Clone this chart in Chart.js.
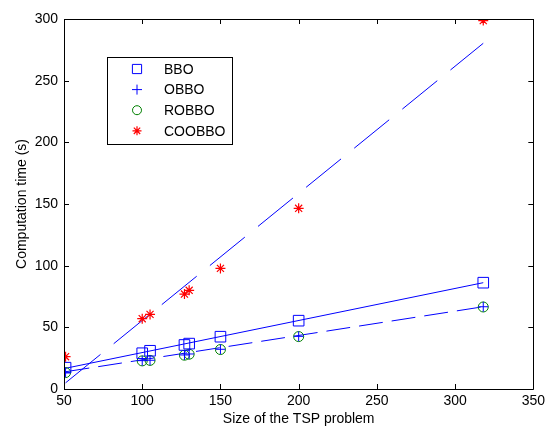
<!DOCTYPE html>
<html>
<head>
<meta charset="utf-8">
<script src="https://cdn.jsdelivr.net/npm/chart.js@4"></script>
<style>
  html, body { margin: 0; padding: 0; background: #fff; }
  #wrap { width: 549px; height: 428px; }
</style>
</head>
<body>
<div id="wrap"><canvas id="chart"></canvas></div>
<script>
// Problem sizes (x)
const sizes = [51, 100, 105, 127, 130, 150, 200, 318];

// Measured computation times (s)
const bboTimes    = [17.3, 29.0, 31.0, 35.7, 36.8, 42.4, 55.4, 86.2];
const obboTimes   = [13.5, 23.0, 23.3, 27.6, 28.4, 32.2, 42.7, 66.7];
const robboTimes  = [13.3, 22.8, 23.2, 27.4, 28.2, 32.0, 42.5, 66.5];
const coobboTimes = [26.2, 57.0, 60.5, 77.0, 80.0, 97.8, 146.5, 298.7];

// Fitted lines (end points)
const fitX       = [51, 318];
const bboFit     = [16.8, 86.2];
const obboFit    = [14.0, 66.7];
const coobboFit  = [5.0, 280.3];

const xTicks = [50, 100, 150, 200, 250, 300, 350];
const yTicks = [0, 50, 100, 150, 200, 250, 300];

const legendNames = ['BBO', 'OBBO', 'ROBBO', 'COOBBO'];

const BLUE = '#0000ff';
const GREEN = '#008000';
const RED = '#ff0000';
const FONT = 'Arial, "Liberation Sans", sans-serif';

function pts(xs, ys) {
    return xs.map((x, i) => ({ x: x, y: ys[i] }));
}

// box around plot area with inward ticks on all sides
const boxPlugin = {
    id: 'boxTicks',
    afterDraw(chart) {
        const ctx = chart.ctx;
        const a = chart.chartArea;
        const xs = chart.scales.x, ys = chart.scales.y;
        ctx.save();
        ctx.strokeStyle = '#000';
        ctx.lineWidth = 1;
        ctx.beginPath();
        ctx.rect(Math.round(a.left) + 0.5, Math.round(a.top) + 0.5,
                 Math.round(a.right - a.left), Math.round(a.bottom - a.top));
        const len = 5;
        xTicks.forEach(v => {
            const px = Math.round(xs.getPixelForValue(v)) + 0.5;
            ctx.moveTo(px, a.bottom); ctx.lineTo(px, a.bottom - len);
            ctx.moveTo(px, a.top); ctx.lineTo(px, a.top + len);
        });
        yTicks.forEach(v => {
            const py = Math.round(ys.getPixelForValue(v)) + 0.5;
            ctx.moveTo(a.left, py); ctx.lineTo(a.left + len, py);
            ctx.moveTo(a.right, py); ctx.lineTo(a.right - len, py);
        });
        ctx.stroke();
        ctx.restore();
    }
};

// MATLAB style legend box inside the axes
const legendPlugin = {
    id: 'boxLegend',
    afterDraw(chart) {
        const ctx = chart.ctx;
        const bx = 107, by = 57, bw = 125, bh = 87;
        ctx.save();
        ctx.fillStyle = '#fff';
        ctx.fillRect(bx, by, bw, bh);
        ctx.strokeStyle = '#000';
        ctx.lineWidth = 1;
        ctx.strokeRect(bx + 0.5, by + 0.5, bw, bh);
        ctx.font = '14px ' + FONT;
        ctx.textBaseline = 'middle';
        legendNames.forEach((name, i) => {
            const ds = chart.data.datasets[i];
            const y = 69 + i * 20.6;
            ctx.fillStyle = 'rgba(0,0,0,0)';
            ctx.strokeStyle = ds.borderColor;
            ctx.lineWidth = ds.borderWidth;
            Chart.helpers.drawPoint(ctx, {
                pointStyle: ds.pointStyle,
                radius: ds.legendRadius,
                borderWidth: ds.borderWidth,
                rotation: 0
            }, 137, y);
            ctx.fillStyle = '#000';
            ctx.fillText(name, 164, y + 1);
        });
        ctx.restore();
    }
};

const ctx = document.getElementById('chart').getContext('2d');
new Chart(ctx, {
    type: 'scatter',
    data: {
        datasets: [
            { label: 'BBO', data: pts(sizes, bboTimes), pointStyle: 'rect', pointRadius: 7.5, legendRadius: 6.5,
              borderColor: BLUE, backgroundColor: 'rgba(0,0,0,0)', borderWidth: 1, showLine: false },
            { label: 'OBBO', data: pts(sizes, obboTimes), pointStyle: 'cross', pointRadius: 5, legendRadius: 5,
              borderColor: BLUE, backgroundColor: 'rgba(0,0,0,0)', borderWidth: 1, showLine: false },
            { label: 'ROBBO', data: pts(sizes, robboTimes), pointStyle: 'circle', pointRadius: 5, legendRadius: 4.5,
              borderColor: GREEN, backgroundColor: 'rgba(0,0,0,0)', borderWidth: 1, showLine: false },
            { label: 'COOBBO', data: pts(sizes, coobboTimes), pointStyle: 'star', pointRadius: 5, legendRadius: 4.5,
              borderColor: RED, backgroundColor: 'rgba(0,0,0,0)', borderWidth: 1.2, showLine: false },
            { label: 'BBO fit', data: pts(fitX, bboFit), showLine: true, pointRadius: 0,
              borderColor: BLUE, borderWidth: 1, fill: false },
            { label: 'OBBO fit', data: pts(fitX, obboFit), showLine: true, pointRadius: 0,
              borderColor: BLUE, borderWidth: 1, borderDash: [24, 9], fill: false },
            { label: 'COOBBO fit', data: pts(fitX, coobboFit), showLine: true, pointRadius: 0,
              borderColor: BLUE, borderWidth: 1, borderDash: [45, 17], fill: false }
        ]
    },
    options: {
        responsive: true,
        maintainAspectRatio: false,
        animation: false,
        layout: { padding: { left: 0, top: 19, right: 11, bottom: 0 } },
        plugins: {
            legend: { display: false },
            tooltip: { enabled: false }
        },
        scales: {
            x: {
                type: 'linear',
                min: 50, max: 350,
                afterBuildTicks(scale) { scale.ticks = xTicks.map(v => ({ value: v })); },
                afterFit(scale) { scale.height = 39; },
                grid: { display: false, drawTicks: false, tickLength: 0 },
                border: { display: false },
                ticks: { color: '#000', font: { family: FONT, size: 14 }, padding: 4, maxRotation: 0 },
                title: { display: true, text: 'Size of the TSP problem', color: '#000',
                         font: { family: FONT, size: 14 }, padding: { top: 0, bottom: 0 } }
            },
            y: {
                type: 'linear',
                min: 0, max: 300,
                afterBuildTicks(scale) { scale.ticks = yTicks.map(v => ({ value: v })); },
                afterFit(scale) { scale.width = 64; },
                grid: { display: false, drawTicks: false, tickLength: 0 },
                border: { display: false },
                ticks: { color: '#000', font: { family: FONT, size: 14 }, padding: 6 },
                title: { display: true, text: 'Computation time (s)', color: '#000',
                         font: { family: FONT, size: 14 }, padding: { top: 14, bottom: 0 } }
            }
        }
    },
    plugins: [boxPlugin, legendPlugin]
});
</script>
</body>
</html>
